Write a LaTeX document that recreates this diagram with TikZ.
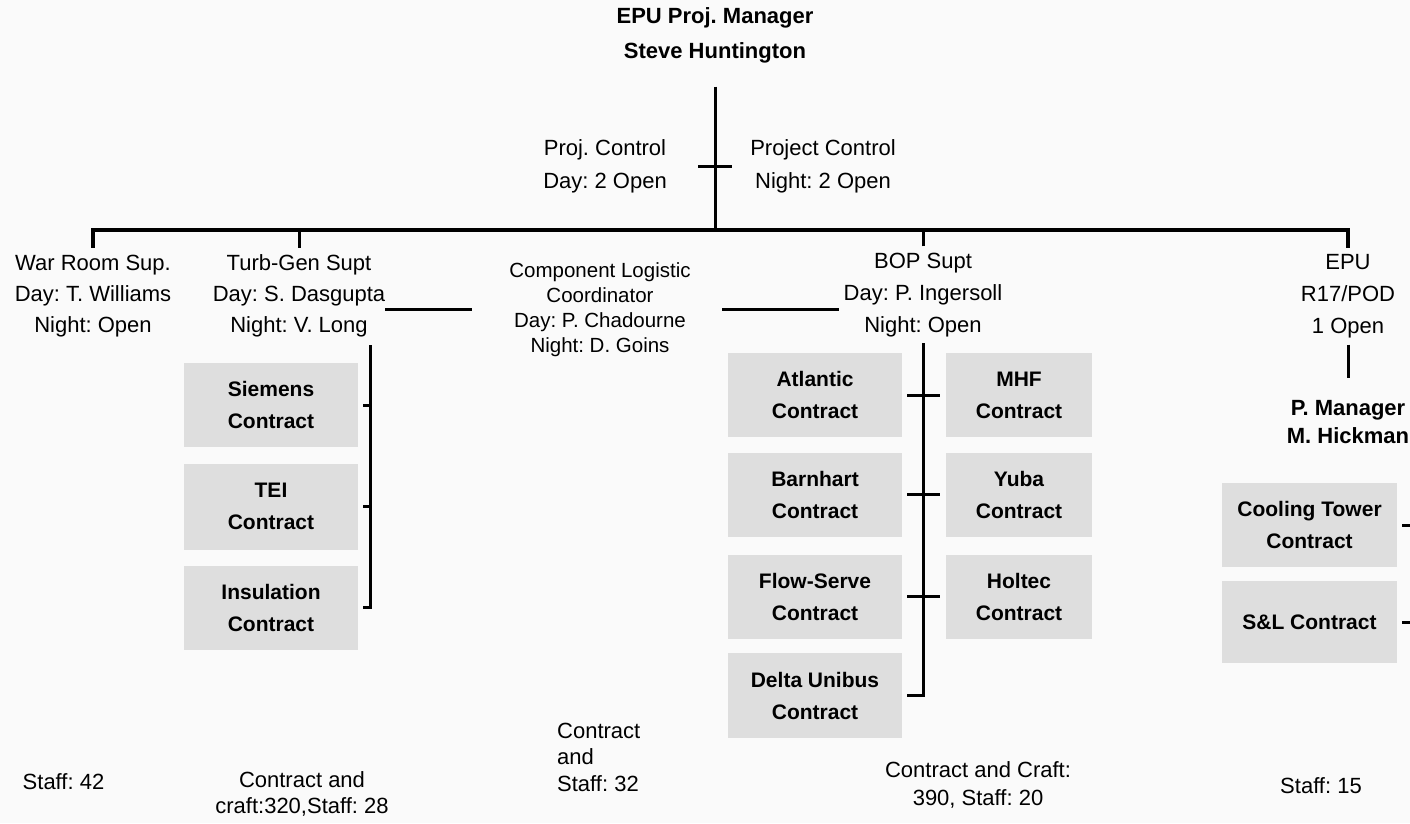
\documentclass[tikz,border=0pt]{standalone}
\usepackage{fontspec}
\setmainfont{Liberation Sans}
\usetikzlibrary{positioning}
\frenchspacing
\tikzset{
    org-text/.style = {align=center, inner sep=0pt, font=\fontsize{22}{32}\selectfont},
    org-bold/.style = {org-text, font=\fontsize{22}{35}\selectfont\bfseries},
    staff-text/.style = {org-text, font=\fontsize{22}{26.5}\selectfont},
    contract-box/.style = {fill=black!13, align=center, inner sep=0pt, minimum width=174pt, minimum height=84pt, font=\fontsize{21}{32}\selectfont\bfseries},
    org-line/.style = {line width=3pt},
}

\begin{document}
\begin{tikzpicture}[x=1pt, y=1pt]
\fill[black!2] (0,0) rectangle (1410,-823);
\useasboundingbox (0,0) rectangle (1410,-823);

\node[org-bold] (pm) at (715,-35.5) {EPU Proj. Manager\\Steve Huntington};
\node[org-text, font=\fontsize{22}{33}\selectfont] (pc-day) at (605,-166.5) {Proj. Control\\Day: 2 Open};
\node[org-text, font=\fontsize{22}{33}\selectfont] (pc-night) at (823,-166.5) {Project Control\\Night: 2 Open};
\coordinate (pc-tick) at (715,-166);
\coordinate (bus) at (715,-230);

\node[org-text, font=\fontsize{22}{31}\selectfont] (wr) at (93,-296) {War Room Sup.\\Day: T. Williams\\Night: Open};
\node[org-text, font=\fontsize{22}{31}\selectfont] (tg) at (299,-296) {Turb-Gen Supt\\Day: S. Dasgupta\\Night: V. Long};
\node[org-text, font=\fontsize{20.5}{25}\selectfont] (clc) at (600,-309.5) {Component Logistic\\Coordinator\\Day: P. Chadourne\\Night: D. Goins};
\node[org-text] (bop) at (923,-295.5) {BOP Supt\\Day: P. Ingersoll\\Night: Open};
\node[org-text] (epu) at (1348,-296.5) {EPU\\R17/POD\\1 Open};
\node[org-bold, font=\fontsize{22}{28}\selectfont\bfseries] (pmgr) at (1348,-422) {P. Manager\\M. Hickman};

\draw[org-line] ([yshift=-23pt]pm.south) -- (bus);
\draw[org-line] ([xshift=-17pt]pc-tick) -- ([xshift=17pt]pc-tick);
\draw[line width=4pt] ([yshift=7pt]wr.north) |- (bus) -| ([yshift=6pt]epu.north);
\draw[org-line] ([yshift=7pt]tg.north) -- (tg.north |- bus);
\draw[org-line] ([yshift=7pt]bop.north) -- (bop.north |- bus);

\coordinate (tg-link) at (472,-309);
\coordinate (bop-link) at (722,-309);
\draw[org-line] (tg.east |- tg-link) -- (tg-link);
\draw[org-line] (bop-link) -- ([xshift=-5pt]bop.west |- bop-link);

\node[contract-box] (siemens) at (271,-405) {Siemens\\Contract};
\node[contract-box, minimum height=86pt] (tei) at (271,-506.5) {TEI\\Contract};
\node[contract-box] (insul) at (271,-607.5) {Insulation\\Contract};
\coordinate (tg-spine) at (370,-345);
\draw[org-line] (tg-spine) |- ([xshift=5pt]insul.east);
\foreach \c in {siemens, tei}
    \draw[org-line] ([xshift=5pt]\c.east) -- (\c.east -| tg-spine);

\node[contract-box] (atlantic) at (815,-395) {Atlantic\\Contract};
\node[contract-box] (barnhart) at (815,-494.5) {Barnhart\\Contract};
\node[contract-box] (flowserve) at (815,-596.5) {Flow-Serve\\Contract};
\node[contract-box, minimum height=85pt] (delta) at (815,-695.5) {Delta Unibus\\Contract};
\node[contract-box, minimum width=146pt] (mhf) at (1019,-395) {MHF\\Contract};
\node[contract-box, minimum width=146pt] (yuba) at (1019,-494.5) {Yuba\\Contract};
\node[contract-box, minimum width=146pt] (holtec) at (1019,-596.5) {Holtec\\Contract};
\coordinate (bop-spine) at (923,-343);
\draw[org-line] (bop-spine) |- ([xshift=5pt]delta.east);
\foreach \l/\r in {atlantic/mhf, barnhart/yuba, flowserve/holtec}
    \draw[org-line] ([xshift=5pt]\l.east) -- ([xshift=-6pt]\r.west);

\draw[org-line] ([yshift=-6pt]epu.south) -- ([yshift=22pt]pmgr.north);
\node[contract-box, minimum width=175pt] (cooling) at (1309.5,-525) {Cooling Tower\\Contract};
\node[contract-box, minimum width=175pt, minimum height=82pt] (sl) at (1309.5,-622) {S\&L Contract};
\draw[org-line] ([xshift=5pt]cooling.east) -- ++(10,0);
\draw[org-line] ([xshift=5pt]sl.east) -- ++(10,0);

\node[staff-text] (wr-staff) at (63.5,-782) {Staff: 42};
\node[staff-text] (tg-staff) at (302,-794) {Contract and\\craft:320,Staff: 28};
\node[staff-text, align=left, anchor=west] (clc-staff) at (557,-757) {Contract\\and\\Staff: 32};
\node[staff-text, font=\fontsize{22}{28}\selectfont] (bop-staff) at (978,-785) {Contract and Craft:\\390, Staff: 20};
\node[staff-text] (epu-staff) at (1321,-786) {Staff: 15};
\end{tikzpicture}
\end{document}
